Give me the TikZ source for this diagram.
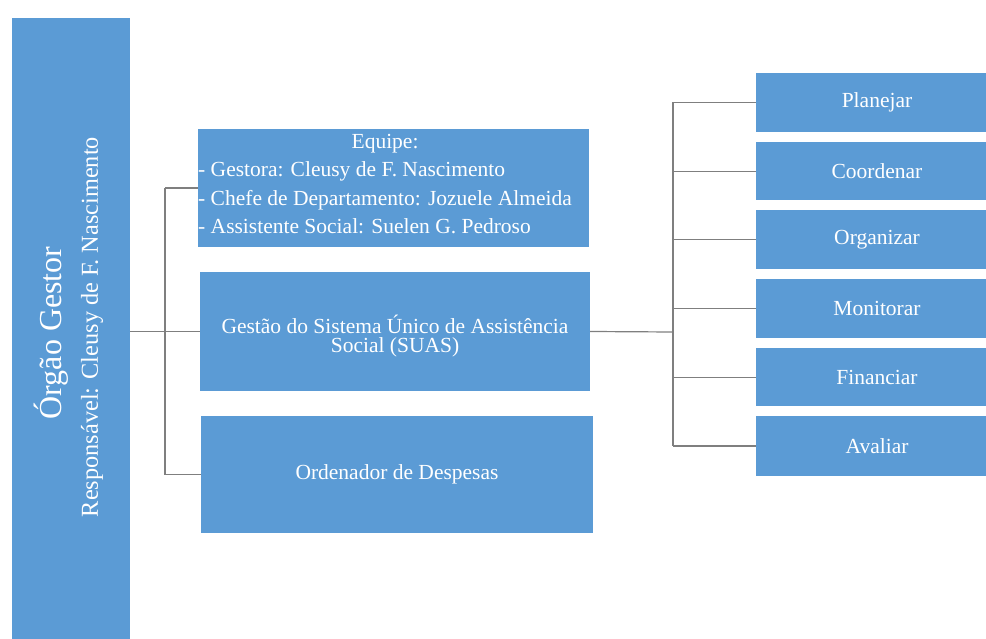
\documentclass[tikz,border=0pt]{standalone}
\usepackage{fontspec}
\setmainfont{Liberation Serif}
\usetikzlibrary{calc}
\definecolor{boxblue}{HTML}{5B9BD5}
\definecolor{linegray}{HTML}{7F7F7F}
\begin{document}
\begin{tikzpicture}[x=1pt,y=-1pt,
  box/.style={draw=none, fill=boxblue, text=white, inner sep=0pt, align=center,
    font=\fontsize{21.5}{19.5}\selectfont},
  wtext/.style={text=white, inner sep=0pt},
  conn/.style={draw=linegray, line width=1.2pt}]
\useasboundingbox (0,0) rectangle (986,639);
% left column
\node[box, minimum width=118, minimum height=640] (organ) at (71,338) {};
\node[wtext, rotate=90, font=\fontsize{32}{32}\selectfont] (title) at (51,333) {Órgão Gestor};
\node[wtext, rotate=90, font=\fontsize{24.3}{24.3}\selectfont] (resp) at (92,327) {Responsável: Cleusy de F. Nascimento};
% middle column
\node[box, minimum width=391, minimum height=118] (equipe) at (393.5,188) {};
\node[wtext, anchor=west, font=\fontsize{21.5}{28.5}\selectfont] (equipetext) at (198,185.5)
  {\begin{tabular}{@{}l@{}}\multicolumn{1}{@{}c@{}}{Equipe:}\\
   - Gestora: Cleusy de F. Nascimento\\
   - Chefe de Departamento: Jozuele Almeida\\
   - Assistente Social: Suelen G. Pedroso\end{tabular}};
\node[box, minimum width=390, minimum height=119] (gestao) at (395,331.5) {};
\node[wtext, align=center, font=\fontsize{21.5}{19.5}\selectfont] (gestaotext) at (395,336)
  {Gestão do Sistema Único de Assistência\\Social (SUAS)};
\node[box, minimum width=392, minimum height=117] (ordenador) at (397,474.5) {Ordenador de Despesas};
% right column
\node[box, minimum width=242, minimum height=59] (planejar) at (877,102.5) {Planejar};
\node[box, minimum width=242, minimum height=58] (coordenar) at (877,171.2) {Coordenar};
\node[box, minimum width=242, minimum height=59] (organizar) at (877,239.9) {Organizar};
\node[box, minimum width=242, minimum height=59] (monitorar) at (877,308.6) {Monitorar};
\node[box, minimum width=242, minimum height=58] (financiar) at (877,377.3) {Financiar};
\node[box, minimum width=242, minimum height=60] (avaliar) at (877,446) {Avaliar};
% connectors
\coordinate (j1) at (165,332);
\coordinate (j2) at (673,332);
\draw[conn] (organ.east |- gestao) -- (gestao.west);
\draw[conn] (j1 |- equipe) -- (j1 |- ordenador);
\draw[conn] (j1 |- equipe) -- (equipe.west);
\draw[conn] (j1 |- ordenador) -- (ordenador.west);
\draw[conn] (gestao.east) -- (j2);
\draw[conn] (j2 |- planejar) -- (j2 |- avaliar);
\foreach \n in {planejar,coordenar,organizar,monitorar,financiar,avaliar}
  \draw[conn] (j2 |- \n) -- (\n.west);
\end{tikzpicture}
\end{document}
